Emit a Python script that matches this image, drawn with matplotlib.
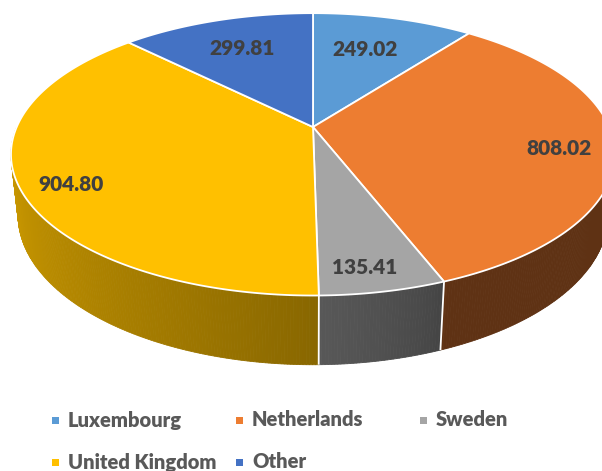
import numpy as np
import matplotlib
matplotlib.use('Agg')
import matplotlib.pyplot as plt
from matplotlib.patches import Polygon, Rectangle

categories = ['Luxembourg', 'Netherlands', 'Sweden', 'United Kingdom', 'Other']
values = [249.02, 808.02, 135.41, 904.80, 299.81]
value_labels = ['249.02', '808.02', '135.41', '904.80', '299.81']
colors = ['#5B9BD5', '#ED7D31', '#A5A5A5', '#FFC000', '#4472C4']

W, H = 602, 471
fig = plt.figure(figsize=(6.02, 4.71), dpi=100)
ax = fig.add_axes([0, 0, 1, 1])
ax.set_xlim(0, W)
ax.set_ylim(H, 0)
ax.axis('off')

# perspective parameters
cx, cy = 313, 127
F = 1360.0
D = 4.59
elev = np.radians(27.3)
ce, se = np.cos(elev), np.sin(elev)
thick = 0.233


def proj(theta_deg, r=1.0, z=0.0):
    t = np.radians(theta_deg)
    X = r * np.sin(t)
    Y = r * np.cos(t)
    vy = Y + D * ce
    vz = z - D * se
    depth = vy * ce - vz * se
    up = vy * se + vz * ce
    return cx + F * X / depth, cy - F * up / depth


def shade(theta):
    return 0.40 + 0.43 * np.clip((theta - 158) / 112.0, 0, 1) ** 0.7


vals = np.array(values)
bounds = np.concatenate([[0], np.cumsum(vals) / vals.sum() * 360])

# side walls (front half), painter's order
strips = []
for i in range(len(values)):
    a0, a1 = bounds[i], bounds[i + 1]
    lo, hi = max(a0, 90), min(a1, 270)
    if hi <= lo:
        continue
    n = max(2, int((hi - lo) / 0.5))
    ts = np.linspace(lo, hi, n + 1)
    base = np.array(matplotlib.colors.to_rgb(colors[i]))
    for t1, t2 in zip(ts[:-1], ts[1:]):
        tm = 0.5 * (t1 + t2)
        c = np.clip(base * shade(tm), 0, 1)
        p = [proj(t1), proj(t2), proj(t2, z=-thick), proj(t1, z=-thick)]
        strips.append((np.cos(np.radians(tm)), p, c))
strips.sort(key=lambda s: -s[0])
for _, p, c in strips:
    ax.add_patch(Polygon(p, closed=True, facecolor=c, edgecolor=c, lw=0.6))

# white separators on the wall
for b in bounds:
    if np.cos(np.radians(b)) < -0.245:
        x0, y0 = proj(b)
        x1, y1 = proj(b, z=-thick)
        ax.plot([x0, x1], [y0, y1], color='white', lw=1.3, solid_capstyle='butt')

# top faces
for i in range(len(values)):
    a0, a1 = bounds[i], bounds[i + 1]
    ts = np.linspace(a0, a1, max(3, int((a1 - a0) / 0.5)))
    pts = [(cx, cy)] + [proj(t) for t in ts]
    ax.add_patch(Polygon(pts, closed=True, facecolor=colors[i], edgecolor='white',
                         lw=1.3, joinstyle='round'))

# data labels
label_r = [0.68, 0.82, 0.85, 0.83, 0.70]
label_nudge = [(-5, 0), (0, 5), (-6, 5), (0, 11), (0, 0)]
for i in range(len(values)):
    mid = 0.5 * (bounds[i] + bounds[i + 1])
    x, y = proj(mid, r=label_r[i])
    x += label_nudge[i][0]
    y += label_nudge[i][1]
    ax.text(x, y, value_labels[i], ha='center', va='center', fontsize=15,
            fontweight='heavy', color='#404040', family='Lato')

# legend
leg_pos = [(52, 420), (236, 420), (420, 420), (52, 462), (236, 462)]
for i, cat in enumerate(categories):
    lx, ly = leg_pos[i]
    ax.add_patch(Rectangle((lx, ly - 3.5), 7, 7, facecolor=colors[i], edgecolor='none'))
    ax.text(lx + 16, ly, cat, ha='left', va='center', fontsize=14.5,
            fontweight='heavy', color='#595959', family='Lato')

fig.savefig('out.png', dpi=100)
